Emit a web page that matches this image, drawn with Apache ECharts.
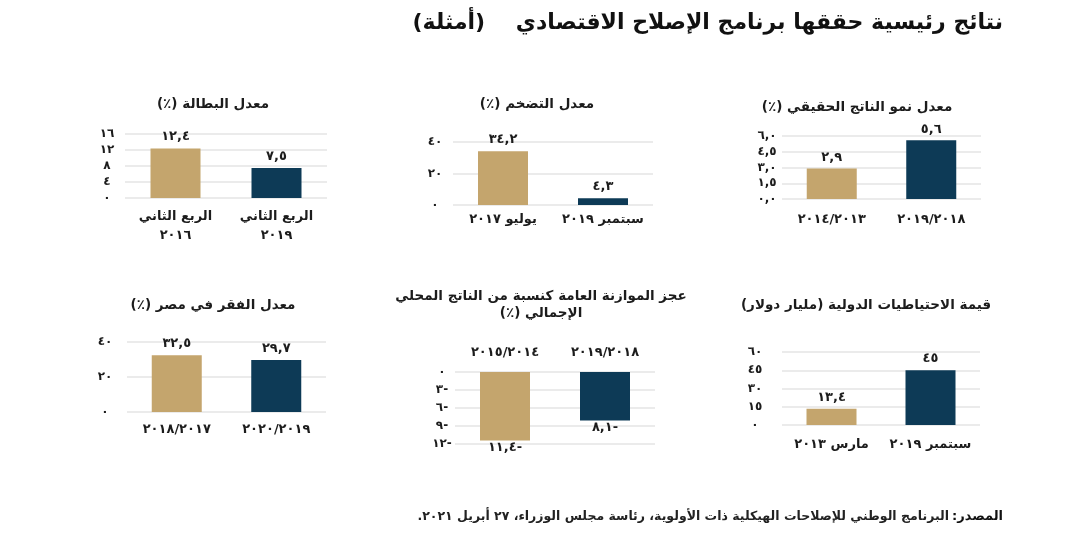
<!DOCTYPE html>
<html>
<head>
<meta charset="utf-8">
<script src="https://cdn.jsdelivr.net/npm/echarts@6/dist/echarts.min.js"></script>
<style>
html,body{margin:0;padding:0;background:#fff;}
#chart{width:1080px;height:539px;direction:rtl;}
</style>
</head>
<body>
<div id="chart" dir="rtl"></div>
<script>
// ---------- data ----------
const mainTitle = 'نتائج رئيسية حققها برنامج الإصلاح الاقتصادي    (أمثلة)';
const sourceLabel = 'المصدر:';
const sourceText = 'البرنامج الوطني للإصلاحات الهيكلية ذات الأولوية، رئاسة مجلس الوزراء، ٢٧ أبريل ٢٠٢١.';

const gdpTitle = 'معدل نمو الناتج الحقيقي (٪)';
const gdpCategories = ['٢٠١٤/٢٠١٣', '٢٠١٩/٢٠١٨'];
const gdpValues = [2.9, 5.6];
const gdpTicks = [0, 1.5, 3, 4.5, 6];

const inflationTitle = 'معدل التضخم (٪)';
const inflationCategories = ['يوليو ٢٠١٧', 'سبتمبر ٢٠١٩'];
const inflationValues = [34.2, 4.3];
const inflationTicks = [0, 20, 40];

const unemploymentTitle = 'معدل البطالة (٪)';
const unemploymentCategories = ['الربع الثاني\n٢٠١٦', 'الربع الثاني\n٢٠١٩'];
const unemploymentValues = [12.4, 7.5];
const unemploymentTicks = [0, 4, 8, 12, 16];

const reservesTitle = 'قيمة الاحتياطيات الدولية (مليار دولار)';
const reservesCategories = ['مارس ٢٠١٣', 'سبتمبر ٢٠١٩'];
const reservesValues = [13.4, 45];
const reservesTicks = [0, 15, 30, 45, 60];

const deficitTitle = 'عجز الموازنة العامة كنسبة من الناتج المحلي\nالإجمالي (٪)';
const deficitCategories = ['٢٠١٥/٢٠١٤', '٢٠١٩/٢٠١٨'];
const deficitValues = [-11.4, -8.1];
const deficitTicks = [-12, -9, -6, -3, 0];

const povertyTitle = 'معدل الفقر في مصر (٪)';
const povertyCategories = ['٢٠١٨/٢٠١٧', '٢٠٢٠/٢٠١٩'];
const povertyValues = [32.5, 29.7];
const povertyTicks = [0, 20, 40];

// ---------- helpers ----------
const AR_DIGITS = '٠١٢٣٤٥٦٧٨٩';
function ar(v, dec) {
  let s = Math.abs(v).toFixed(dec).replace('.', ',');
  s = s.replace(/[0-9]/g, d => AR_DIGITS[+d]);
  return (v < 0 ? '-' : '') + s;
}
function arAuto(v) { return ar(v, Number.isInteger(v) ? 0 : 1); }

const TAN = '#C4A56D';
const NAVY = '#0D3A56';
const TXT = '#1c1c1c';
const FONT = '"DejaVu Sans", sans-serif';

const panels = [
  {title: gdpTitle, cats: gdpCategories, vals: gdpValues, ticks: gdpTicks, tickDec: 1},
  {title: inflationTitle, cats: inflationCategories, vals: inflationValues, ticks: inflationTicks, tickDec: 0},
  {title: unemploymentTitle, cats: unemploymentCategories, vals: unemploymentValues, ticks: unemploymentTicks, tickDec: 0},
  {title: reservesTitle, cats: reservesCategories, vals: reservesValues, ticks: reservesTicks, tickDec: 0},
  {title: deficitTitle, cats: deficitCategories, vals: deficitValues, ticks: deficitTicks, tickDec: 0},
  {title: povertyTitle, cats: povertyCategories, vals: povertyValues, ticks: povertyTicks, tickDec: 0}
];

// layout (positions / styles)
const layout = [
  {grid: {left: 782, top: 136, width: 199, height: 63}, tx: 857, ty: 107, yMargin: 15, xMargin: 11, labelDist: 4},
  {grid: {left: 453, top: 142, width: 200, height: 63}, tx: 537, ty: 104, yMargin: 18, xMargin: 5, labelDist: 5},
  {grid: {left: 125, top: 134, width: 202, height: 64}, tx: 213, ty: 104, yMargin: 18, xMargin: 9, labelDist: 5},
  {grid: {left: 782, top: 352, width: 198, height: 73}, tx: 866, ty: 305, yMargin: 27, xMargin: 10, labelDist: 5},
  {grid: {left: 455, top: 372, width: 200, height: 72}, tx: 541, ty: 305, yMargin: 13, xMargin: 10, labelDist: 1, xTop: true},
  {grid: {left: 127, top: 342, width: 199, height: 70}, tx: 213, ty: 305, yMargin: 22, xMargin: 8, labelDist: 5}
];

const option = {
  animation: false,
  backgroundColor: '#ffffff',
  grid: [], xAxis: [], yAxis: [], series: [],
  graphic: []
};

panels.forEach((p, i) => {
  const L = layout[i];
  option.grid.push(L.grid);
  option.xAxis.push({
    type: 'category', gridIndex: i, data: p.cats,
    position: L.xTop ? 'top' : 'bottom',
    axisLine: {show: false}, axisTick: {show: false},
    axisLabel: {color: TXT, fontFamily: FONT, fontWeight: 'bold', fontSize: 13, margin: L.xMargin, lineHeight: 19, interval: 0}
  });
  const tmin = Math.min(...p.ticks), tmax = Math.max(...p.ticks);
  option.yAxis.push({
    type: 'value', gridIndex: i, min: tmin, max: tmax, interval: p.ticks[1] - p.ticks[0],
    axisLine: {show: false}, axisTick: {show: false},
    splitLine: {show: true, lineStyle: {color: '#e4e4e4', width: 1.5}},
    axisLabel: {color: TXT, fontFamily: FONT, fontWeight: 'bold', fontSize: 12, margin: L.yMargin, align: 'center',
      formatter: v => ar(v, p.tickDec)}
  });
  option.series.push({
    type: 'bar', xAxisIndex: i, yAxisIndex: i, data: p.vals, barWidth: 50,
    itemStyle: {color: params => params.dataIndex === 0 ? TAN : NAVY},
    label: {show: true, position: 'outside', distance: L.labelDist, color: TXT, fontFamily: FONT, fontWeight: 'bold', fontSize: 13,
      formatter: params => arAuto(params.value)}
  });
  option.graphic.push({
    type: 'text', x: L.tx, y: L.ty,
    style: {text: p.title, fill: TXT, font: 'bold 13.5px ' + FONT, align: 'center', verticalAlign: 'middle', lineHeight: 17}
  });
});

option.graphic.push({
  type: 'text', x: 1003, y: 23,
  style: {text: mainTitle, fill: '#111', font: 'bold 22px ' + FONT, align: 'right', verticalAlign: 'middle'}
});
option.graphic.push({
  type: 'text', x: 1003, y: 517,
  style: {text: sourceLabel, fill: '#111', font: 'bold 13px ' + FONT, align: 'right', verticalAlign: 'middle'}
});
option.graphic.push({
  type: 'text', x: 949, y: 517,
  style: {text: sourceText, fill: '#222', font: 'bold 12.5px ' + FONT, align: 'right', verticalAlign: 'middle'}
});

const chart = echarts.init(document.getElementById('chart'), null, {renderer: 'canvas'});
chart.setOption(option);
</script>
</body>
</html>
